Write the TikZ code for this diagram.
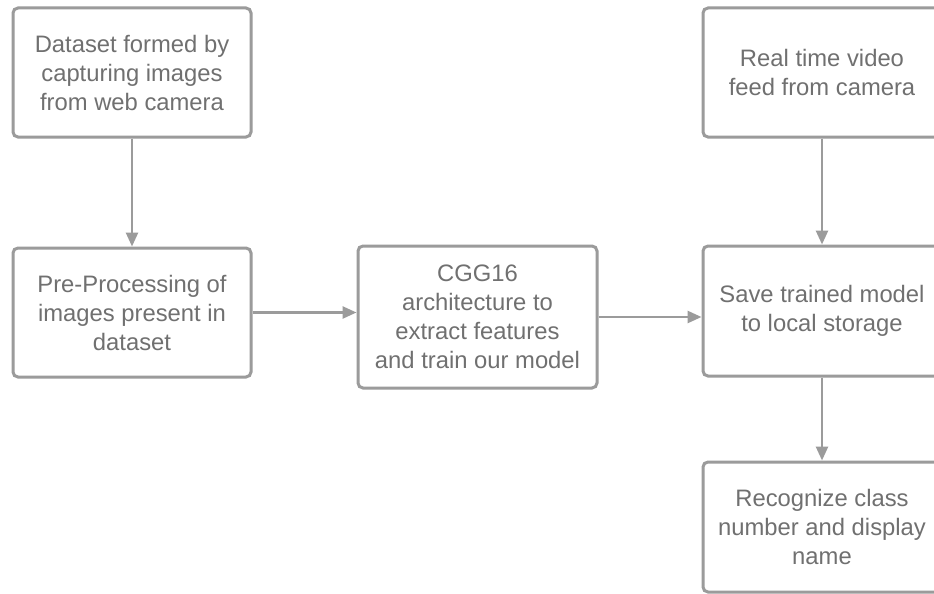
\documentclass[tikz,border=0pt]{standalone}
\usepackage{fontspec}
\setmainfont{Liberation Sans}
\usetikzlibrary{arrows.meta}
\definecolor{edgegray}{HTML}{9B9B9B}
\definecolor{textgray}{HTML}{707070}
\begin{document}
\begin{tikzpicture}[x=1pt,y=-1pt,
  box/.style={draw=edgegray, line width=3pt, rounded corners=5pt, fill=white,
    minimum width=238pt, minimum height=129pt, align=center, text=textgray,
    font=\fontsize{23.8}{29}\selectfont, inner sep=0pt},
  conn/.style={draw=edgegray, line width=2.6pt, -{Triangle[length=14pt,width=12pt]}}]
\useasboundingbox (0,0) rectangle (934,594);
\clip (0,0) rectangle (934,594);
\fill[white] (0,0) rectangle (934,594);
\node[box] (a) at (132,72.5) {Dataset formed by\\capturing images\\from web camera};
\node[box] (b) at (132,312.5) {Pre-Processing of\\images present in\\dataset};
\node[box, minimum width=239pt, minimum height=142pt] (c) at (477.5,317) {CGG16\\architecture to\\extract features\\and train our model};
\node[box] (d) at (822,72.5) {Real time video\\feed from camera};
\node[box, minimum height=130pt] (e) at (822,311) {Save trained model\\to local storage};
\node[box, minimum height=130pt] (f) at (822,527) {Recognize class\\number and display\\name};
\draw[conn] (a.south) -- (b.north);
\draw[conn] (b.east) -- (b.east -| c.west);
\draw[conn] (c.east) -- (c.east -| e.west);
\draw[conn] (d.south) -- (e.north);
\draw[conn] (e.south) -- (f.north);
\end{tikzpicture}
\end{document}
